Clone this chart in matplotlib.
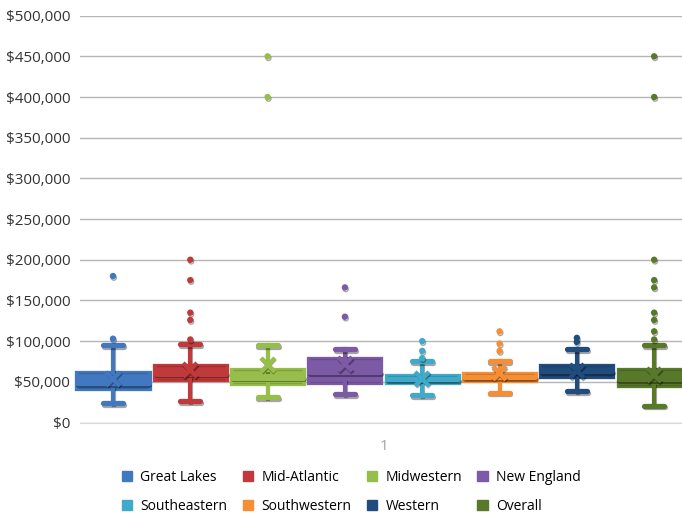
import numpy as np
import matplotlib
matplotlib.use("Agg")
import matplotlib.pyplot as plt
import matplotlib.patheffects as pe
from matplotlib.patches import Patch
from matplotlib.ticker import FuncFormatter

# region names and colours
regions = ["Great Lakes", "Mid-Atlantic", "Midwestern", "New England",
           "Southeastern", "Southwestern", "Western", "Overall"]
colors = ["#4278C0", "#C0393B", "#97BE4A", "#7D5AA6",
          "#3FAAC9", "#F68E36", "#214C7E", "#58792A"]

# five-number summaries (dollars)
whislo = [24000, 26000, 31000, 35000, 34000, 36500, 38500, 20500]
q1     = [42000, 54000, 49000, 50000, 50000, 52000, 57500, 46000]
median = [48000, 60000, 55000, 62000, 53000, 56000, 63000, 53000]
q3     = [61000, 70000, 64000, 78000, 57500, 60000, 70000, 65000]
whishi = [95000, 96000, 95000, 90000, 75000, 75000, 90000, 95000]
means  = [54000, 64000, 71000, 72000, 54000, 61000, 63000, 58000]
outliers = [
    [103000, 180000],
    [102000, 126000, 135000, 175000, 200000],
    [400000, 450000],
    [130000, 166000],
    [79000, 88000, 100000],
    [88000, 97000, 112000],
    [99000, 104000],
    [102000, 112000, 126000, 135000, 166000, 175000, 200000, 400000, 450000],
]

plt.rcParams['font.family'] = ['Open Sans', 'DejaVu Sans']

fig = plt.figure(figsize=(6.82, 5.15), dpi=100)
ax = fig.add_axes([0.1173, 0.1796, 0.8827, 0.790])

shadow = [pe.SimpleLineShadow(offset=(0.6, -1.2), alpha=0.35, rho=0.6), pe.Normal()]

pos = np.arange(len(regions))
for i in range(len(regions)):
    st = [dict(whislo=whislo[i], q1=q1[i], med=median[i], q3=q3[i],
               whishi=whishi[i], mean=means[i], fliers=outliers[i])]
    c = colors[i]
    art = ax.bxp(st, positions=[pos[i]], widths=0.92, showmeans=True,
                 patch_artist=True, manage_ticks=False,
                 boxprops=dict(facecolor=c, edgecolor=c, linewidth=3.8),
                 medianprops=dict(color=c, linewidth=3.6, solid_capstyle='round'),
                 whiskerprops=dict(color=c, linewidth=3.0),
                 capprops=dict(color=c, linewidth=3.8, solid_capstyle='round'),
                 capwidths=0.26,
                 meanprops=dict(marker='x', markeredgecolor=c, markersize=10,
                                markeredgewidth=3.2),
                 flierprops=dict(marker='o', markerfacecolor=c, markeredgecolor=c,
                                 markersize=3.6))
    for b in art['boxes']:
        b.set_path_effects([pe.SimplePatchShadow(offset=(0.6, -1.5), alpha=0.3), pe.Normal()])
        b.set_clip_on(False)
    for key in ['medians', 'whiskers', 'caps', 'means', 'fliers']:
        for ln in art[key]:
            ln.set_path_effects(shadow)
            ln.set_clip_on(False)
            ln.set_zorder(4)
    # inner lines of the thick box edges
    ax.hlines([q1[i], median[i], q3[i]], pos[i] - 0.45, pos[i] + 0.45,
              colors='k', alpha=0.15, linewidth=1.0, zorder=3.5, clip_on=False)

ax.set_xlim(-0.427, 7.36)
ax.set_ylim(0, 500000)
ax.set_yticks(np.arange(0, 500001, 50000))
ax.yaxis.set_major_formatter(FuncFormatter(lambda v, p: "${:,.0f}".format(v)))
ax.grid(axis='y', color='#B5B5B5', linewidth=1.0, zorder=0)
ax.set_axisbelow(True)
ax.set_xticks([3.5])
ax.set_xticklabels(["1"])
ax.tick_params(axis='both', length=0, labelsize=11, colors='#333333')
ax.tick_params(axis='y', pad=7)
ax.tick_params(axis='x', pad=12, labelcolor='#A6A6A6')
for s in ['top', 'right', 'left']:
    ax.spines[s].set_visible(False)
ax.spines['bottom'].set_color('#D9D9D9')

# legend fills column by column, so reorder to read row by row
order = [0, 4, 1, 5, 2, 6, 3, 7]
handles = [Patch(facecolor=colors[k], edgecolor=colors[k]) for k in order]
labels = [regions[k] for k in order]
fig.legend(handles, labels, ncol=4, loc='center', bbox_to_anchor=(0.515, 0.045),
           frameon=False, fontsize=10, handlelength=0.75, handleheight=0.75,
           handletextpad=0.6, columnspacing=1.1, labelspacing=1.0)

fig.savefig("out.png", dpi=100)
